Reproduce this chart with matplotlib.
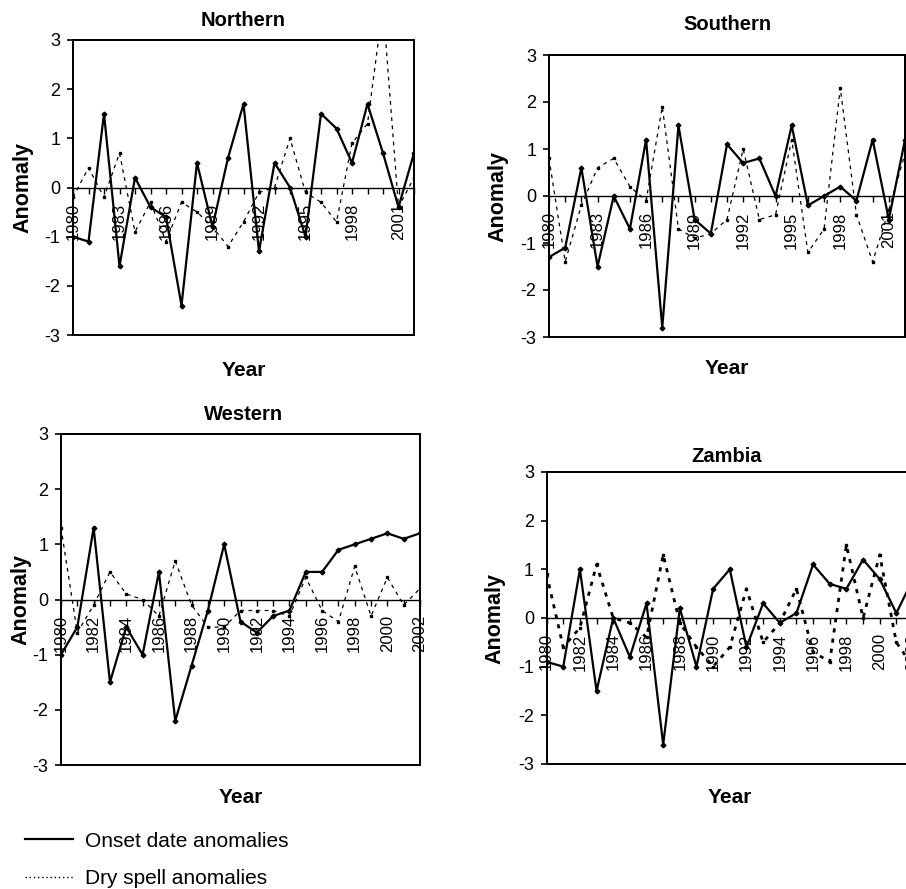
import matplotlib
matplotlib.use('Agg')
import matplotlib.pyplot as plt
from matplotlib.lines import Line2D
from matplotlib.patches import Rectangle

plt.rcParams['font.family'] = ['Liberation Sans', 'DejaVu Sans']

W, H = 906, 889

years = list(range(1980, 2003))

# Northern
onset_n = [-1.0, -1.1, 1.5, -1.6, 0.2, -0.4, -0.6, -2.4, 0.5, -0.8, 0.6, 1.7,
           -1.3, 0.5, 0.0, -1.0, 1.5, 1.2, 0.5, 1.7, 0.7, -0.4, 0.7]
dry_n = [-0.2, 0.4, -0.2, 0.7, -0.9, -0.3, -1.1, -0.3, -0.5, -0.8, -1.2, -0.7,
         -0.1, 0.0, 1.0, -0.1, -0.3, -0.7, 0.9, 1.3, 3.7, -0.4, 0.2]

# Southern
onset_s = [-1.3, -1.1, 0.6, -1.5, 0.0, -0.7, 1.2, -2.8, 1.5, -0.5, -0.8, 1.1,
           0.7, 0.8, 0.0, 1.5, -0.2, 0.0, 0.2, -0.1, 1.2, -0.5, 1.2]
dry_s = [0.8, -1.4, -0.2, 0.6, 0.8, 0.2, -0.1, 1.9, -0.7, -0.9, -0.8, -0.5,
         1.0, -0.5, -0.4, 1.2, -1.2, -0.7, 2.3, -0.4, -1.4, -0.3, 0.9]

# Western
onset_w = [-1.0, -0.5, 1.3, -1.5, -0.5, -1.0, 0.5, -2.2, -1.2, -0.2, 1.0, -0.4,
           -0.6, -0.3, -0.2, 0.5, 0.5, 0.9, 1.0, 1.1, 1.2, 1.1, 1.2]
dry_w = [1.3, -0.6, -0.1, 0.5, 0.1, 0.0, -0.3, 0.7, -0.1, -0.5, -0.5, -0.2,
         -0.2, -0.2, -0.3, 0.4, -0.2, -0.4, 0.6, -0.3, 0.4, -0.1, 0.2]

# Zambia
onset_z = [-0.9, -1.0, 1.0, -1.5, 0.0, -0.8, 0.3, -2.6, 0.2, -1.0, 0.6, 1.0,
           -0.6, 0.3, -0.1, 0.1, 1.1, 0.7, 0.6, 1.2, 0.8, 0.1, 0.8]
dry_z = [0.9, -0.6, -0.2, 1.1, 0.0, -0.1, -0.4, 1.3, -0.1, -0.6, -1.0, -0.6,
         0.6, -0.5, -0.1, 0.6, -0.7, -0.9, 1.5, 0.0, 1.3, -0.5, -1.0]

yticks = [-3, -2, -1, 0, 1, 2, 3]
legend_labels = ['Onset date anomalies', 'Dry spell anomalies']


def box(l, t, r, b):
    """pixel box -> figure fraction rect"""
    return [l / W, 1 - b / H, (r - l) / W, (b - t) / H]


fig = plt.figure(figsize=(W / 100, H / 100), dpi=100, facecolor='white')

panels = [
    # title, onset, dry, label step, (l, t, r, b), title xy, anomaly right x, year top y, heavy dry
    ('Northern', onset_n, dry_n, 3, (73, 40, 414, 335), (243, 20), 33, 361, False),
    ('Southern', onset_s, dry_s, 3, (549, 55, 905, 337), (727, 25), 508, 359, False),
    ('Western', onset_w, dry_w, 2, (61, 434, 420, 765), (244, 415), 31, 788, False),
    ('Zambia', onset_z, dry_z, 2, (546.6, 472, 913, 764), (727, 457), 505, 788, True),
]

for title, onset, dry, step, (l, t, r, b), (tx, ty), anx, yry, heavy in panels:
    ax = fig.add_axes(box(l, t, r, b))
    ax.set_xlim(years[0], years[-1])
    ax.set_ylim(-3, 3)

    if heavy:
        ax.plot(years, dry, color='black', lw=2.0, dashes=(1.5, 2.2),
                marker='s', ms=2.0, zorder=3)
    else:
        ax.plot(years, dry, color='black', lw=0.9, dashes=(3, 3.5),
                marker='s', ms=1.8, zorder=3)
    ax.plot(years, onset, color='black', lw=1.6, marker='D', ms=2.4, zorder=4)

    # category axis crosses at zero
    ax.spines['bottom'].set_position(('data', 0))
    ax.spines['bottom'].set_linewidth(1.0)
    for s in ['top', 'right', 'left']:
        ax.spines[s].set_linewidth(1.4)
    ax.add_patch(Rectangle((0, 0), 1, 1, transform=ax.transAxes, fill=False,
                           lw=1.4, edgecolor='black', clip_on=False, zorder=5))

    ax.set_xticks(years)
    ax.set_xticklabels([str(y) if (y - years[0]) % step == 0 else '' for y in years],
                       rotation=90, fontsize=12)
    ax.tick_params(axis='x', direction='out', length=4, width=1.0, pad=7)

    ax.set_yticks(yticks)
    ax.set_yticklabels([str(v) for v in yticks], fontsize=13)
    ax.tick_params(axis='y', direction='out', length=4, width=1.2, pad=5)

    ax.set_xlabel('Year', fontsize=15, fontweight='bold')
    ax.xaxis.set_label_coords(0.5, (b - yry) / (b - t))
    ax.set_ylabel('Anomaly', fontsize=15.5, fontweight='bold')
    ax.yaxis.set_label_coords((anx - l) / (r - l), 0.5)

    fig.text(tx / W, 1 - ty / H, title, fontsize=14.5, fontweight='bold',
             ha='center', va='center')

handles = [Line2D([], [], color='black', lw=1.6),
           Line2D([], [], color='black', lw=1.0, linestyle=(0, (1, 2)))]
fig.legend(handles, legend_labels, loc='upper left',
           bbox_to_anchor=(6 / W, 1 - 813 / H), frameon=False, fontsize=15,
           handlelength=2.3, handletextpad=0.6, labelspacing=0.9)

plt.savefig('out.png', dpi=100, facecolor='white')
